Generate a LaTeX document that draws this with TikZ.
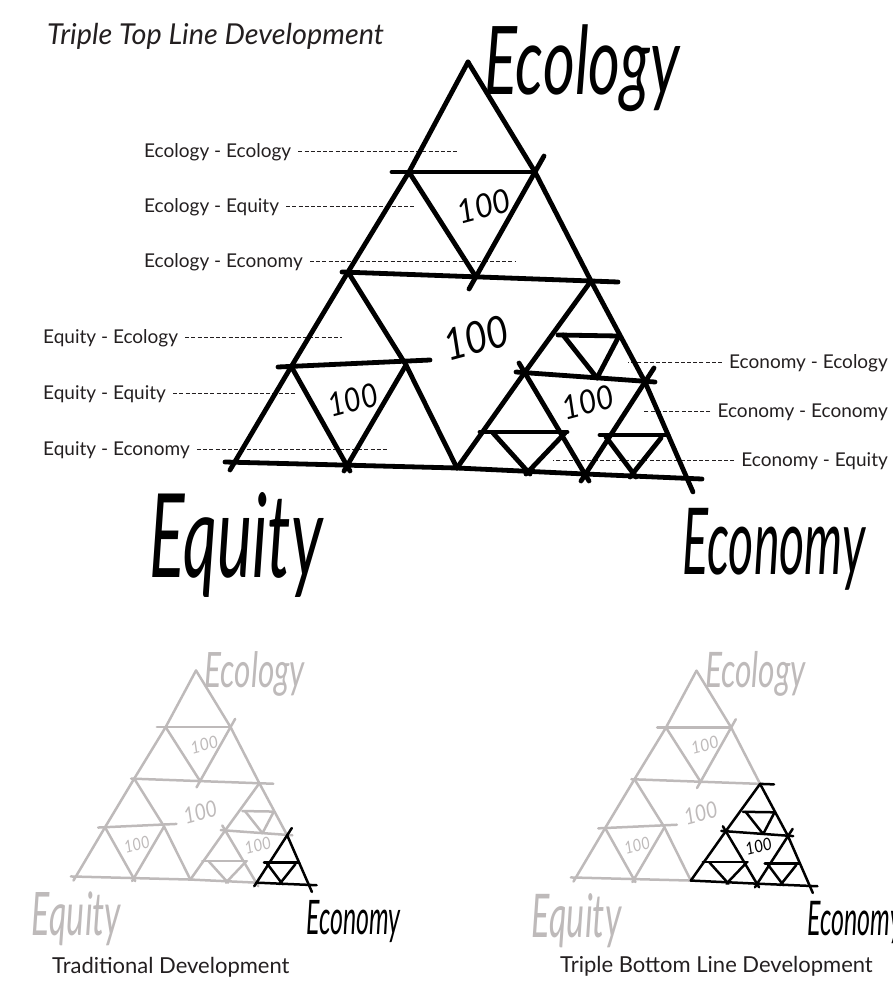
\documentclass[tikz,border=0pt]{standalone}
\usepackage{graphicx}
\usepackage{fontspec}
\setmainfont{Lato}
\newfontfamily\handfont{Lato}
\definecolor{lgray}{RGB}{190,186,186}
\definecolor{ink}{RGB}{35,31,32}
\tikzset{
  sk/.style={line width=4.8pt, line cap=round, line join=round},
  lead/.style={draw=ink, line width=0.9pt, dash pattern=on 4pt off 2.2pt},
  lab/.style={font=\fontsize{19}{22}\selectfont, text=ink, inner sep=0pt},
  hw/.style={font=\handfont\itshape, inner sep=0pt},
}
\newcommand{\hwbox}[3]{\resizebox*{#1pt}{#2pt}{#3}}
\newcommand{\trisketch}[3]{%
  % ---- group 1: Ecology and Equity parts
  \draw[sk,draw=#1] (468,62) -- (409,172) -- (348,272) -- (291,367) -- (230,470);
  \draw[sk,draw=#1] (468,62) -- (535,172) -- (591,281);
  \draw[sk,draw=#1] (392,172) -- (535,172);
  \draw[sk,draw=#1] (409,172) -- (476,277);
  \draw[sk,draw=#1] (544,156) -- (469,289);
  \draw[sk,draw=#1] (342,272) -- (591,281);
  \draw[sk,draw=#1] (348,272) -- (406,365) -- (457,468);
  \draw[sk,draw=#1] (278,367) -- (430,360);
  \draw[sk,draw=#1] (291,366) -- (350,471);
  \draw[sk,draw=#1] (406,365) -- (344,471);
  \draw[sk,draw=#1] (225,462) -- (457,468);
  \node[hw,text=#1] (ecolab) at (582,68) {\hwbox{195}{87}{Ecology}};
  \node[hw,text=#1] (equlab) at (236,545) {\hwbox{173}{105}{Equity}};
  \node[hw,text=#1,rotate=15] (big100) at (476,338) {\hwbox{66}{32}{100}};
  \node[hw,text=#1,rotate=15] (top100) at (484,206) {\hwbox{54}{24}{100}};
  \node[hw,text=#1,rotate=15] (left100) at (353,400) {\hwbox{50}{24}{100}};
  % ---- group 2: Economy sub-triangle
  \draw[sk,draw=#2] (591,281) -- (618,282);
  \draw[sk,draw=#2] (591,281) -- (525,372) -- (457,468);
  \draw[sk,draw=#2] (591,281) -- (645,382);
  \draw[sk,draw=#2] (457,468) -- (585,474);
  \draw[sk,draw=#2] (516,372) -- (655,382);
  \draw[sk,draw=#2] (519,363) -- (589,481);
  \draw[sk,draw=#2] (558,335) -- (619,336);
  \draw[sk,draw=#2] (563,335) -- (597,378);
  \draw[sk,draw=#2] (619,336) -- (597,378);
  \draw[sk,draw=#2] (480,432) -- (567,432);
  \draw[sk,draw=#2] (493,433) -- (530,474);
  \draw[sk,draw=#2] (565,433) -- (526,474);
  \node[hw,text=#2,rotate=15] (right100) at (588,402) {\hwbox{52}{24}{100}};
  % ---- group 3: Economy - Economy corner
  \draw[sk,draw=#3] (645,382) -- (693,492);
  \draw[sk,draw=#3] (585,474) -- (702,479);
  \draw[sk,draw=#3] (654,368) -- (581,481);
  \draw[sk,draw=#3] (600,435) -- (668,435);
  \draw[sk,draw=#3] (606,437) -- (636,477);
  \draw[sk,draw=#3] (661,438) -- (630,477);
  \node[hw,text=#3] (econlab) at (774,549) {\hwbox{183}{82}{Economy}};
}
\begin{document}
\begin{tikzpicture}[x=1pt, y=-1pt]
\useasboundingbox (0,0) rectangle (893,982);
% title
\node[anchor=base west, inner sep=0pt, text=ink, font=\fontsize{28.8}{30}\selectfont\itshape] (title) at (47,45) {Triple Top Line Development};
% leader labels, left
\node[lab, anchor=base west] (l1) at (144,157) {Ecology - Ecology};
\node[lab, anchor=base west] (l2) at (144,212) {Ecology - Equity};
\node[lab, anchor=base west] (l3) at (144,267) {Ecology - Economy};
\node[lab, anchor=base west] (l4) at (43,343) {Equity - Ecology};
\node[lab, anchor=base west] (l5) at (43,399) {Equity - Equity};
\node[lab, anchor=base west] (l6) at (43,455) {Equity - Economy};
\coordinate (d1) at (457,152);
\coordinate (d2) at (416,207);
\coordinate (d3) at (516,262);
\coordinate (d4) at (342,337);
\coordinate (d5) at (295,394);
\coordinate (d6) at (388,450);
\foreach \i in {1,...,6} {\draw[lead] ([xshift=7pt]l\i.east) -- (l\i.east -| d\i);}
% leader labels, right
\node[lab, anchor=base east] (r1) at (888,368) {Economy - Ecology};
\node[lab, anchor=base east] (r2) at (888,417) {Economy - Economy};
\node[lab, anchor=base east] (r3) at (888,466) {Economy - Equity};
\coordinate (e1) at (628,363);
\coordinate (e2) at (643,411);
\coordinate (e3) at (553,461);
\foreach \i in {1,2,3} {\draw[lead] ([xshift=-7pt]r\i.west) -- (r\i.west -| e\i);}
% main sketch
\trisketch{black}{black}{black}
% traditional development
\begin{scope}[shift={(75,878)}, scale=0.515, shift={(-233,-465)}, transform shape, name prefix=tl-,
  sk/.style={line width=2.5pt, line cap=round, line join=round}]
  \trisketch{lgray}{lgray}{black}
\end{scope}
% triple bottom line development
\begin{scope}[shift={(575,879)}, scale=0.517, shift={(-233,-465)}, transform shape, name prefix=tb-,
  sk/.style={line width=2.5pt, line cap=round, line join=round}]
  \trisketch{lgray}{black}{black}
\end{scope}
\node[anchor=base west, inner sep=0pt, text=ink, font=\fontsize{22}{24}\selectfont] (cap1) at (52,973) {Traditional Development};
\node[anchor=base west, inner sep=0pt, text=ink, font=\fontsize{22}{24}\selectfont] (cap2) at (560,972) {Triple Bottom Line Development};
\end{tikzpicture}
\end{document}
